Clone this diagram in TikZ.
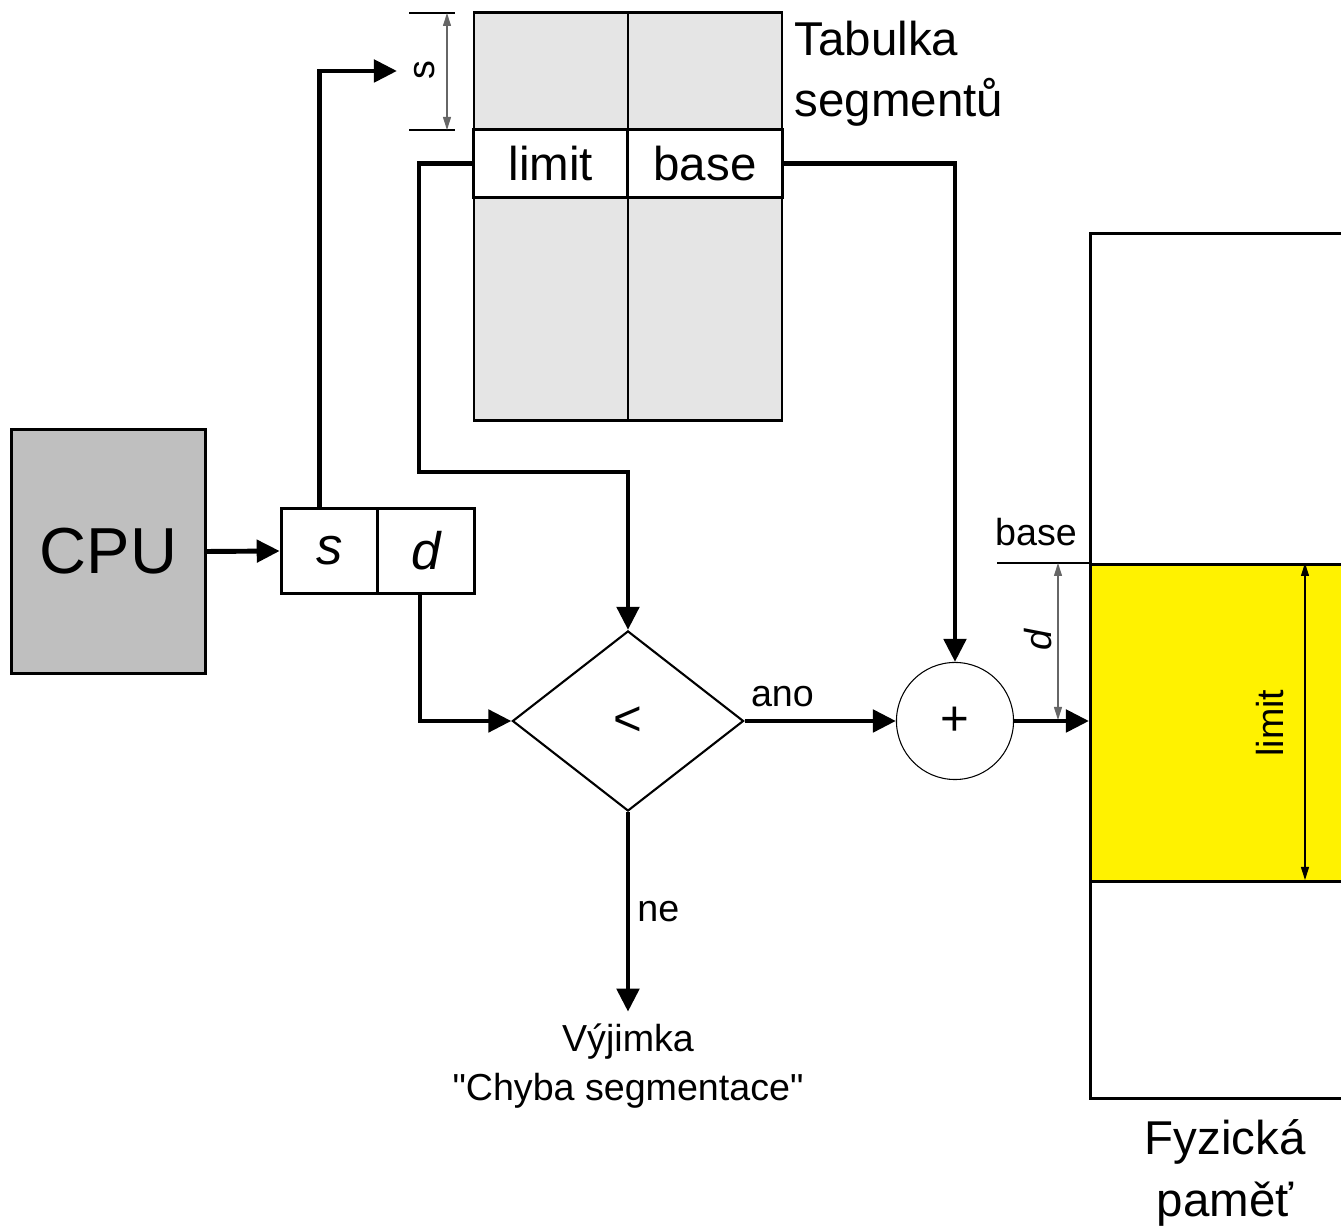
\documentclass[tikz,border=0pt]{standalone}
\usepackage{fontspec}
\setmainfont{Liberation Sans}
\usetikzlibrary{arrows.meta,positioning,calc,shapes.geometric}

\begin{document}
\begin{tikzpicture}[x=0.01cm,y=-0.01cm,
  box/.style={draw, line width=0.85pt, inner sep=0pt},
  conn/.style={line width=1.4pt, -{Triangle[length=0.23cm,width=0.22cm]}},
  dim/.style={line width=0.3pt, {Triangle[length=0.13cm,width=0.08cm]}-{Triangle[length=0.13cm,width=0.08cm]}},
  big/.style={font=\fontsize{18.5}{22}\selectfont},
  mid/.style={font=\fontsize{13.5}{17.4}\selectfont},
  small/.style={font=\fontsize{10.7}{13.7}\selectfont}]
  \clip (0,0) rectangle (1341,1231);
  % CPU a logicka adresa
  \node[box, fill=black!25, minimum width=1.93cm, minimum height=2.43cm, big] (cpu) at (108.5,551.5) {CPU};
  \node[box, minimum width=0.965cm, minimum height=0.84cm, font=\fontsize{15}{18}\selectfont] (s) at (329.5,551) {\itshape s};
  \node[box, minimum width=0.965cm, minimum height=0.84cm, font=\fontsize{15}{18}\selectfont] (d) at (426,551) {\itshape d};
  % tabulka segmentu
  \draw[box, fill=black!10] (474,13) rectangle (782,421);
  \draw[box] (628,13) -- (628,421);
  \node[box, fill=white, minimum width=1.54cm, minimum height=0.67cm, mid] (limit) at (551,163.5) {limit};
  \node[box, fill=white, minimum width=1.54cm, minimum height=0.67cm, mid] (base) at (705,163.5) {base};
  \node[mid, anchor=west, align=left, inner sep=0pt] (tab) at (794,74) {Tabulka\\segmentů};
  \draw[line width=0.3pt] (409,13) -- (455,13) (409,130) -- (455,130);
  \draw[dim, black!60] (447,13) -- (447,130);
  \node[small, rotate=90] (sdim) at (425,70) {s};
  % fyzicka pamet
  \node[box, minimum width=2.8cm, minimum height=8.65cm, anchor=north west] (mem) at (1089,232) {};
  \node[box, fill=yellow, minimum width=2.8cm, minimum height=3.17cm, anchor=north west] (seg) at (1089,563) {};
  \node[small, anchor=south] (membase) at (1036,558) {base};
  \draw[line width=0.6pt] (997,563) -- (seg.north west);
  \draw[dim, black!60] (1058,563) -- (1058,720);
  \node[small, rotate=90] (ddim) at (1038,640) {\itshape d};
  \draw[dim] (1305,563) -- (1305,880);
  \node[small, rotate=90] (lim) at (1270,723) {limit};
  \node[mid, align=center] (fyz) at (1225,1173) {Fyzická\\paměť};
  % porovnani a scitani
  \node[draw, diamond, line width=0.6pt, minimum width=2.31cm, minimum height=1.8cm, inner sep=0pt, font=\fontsize{14}{16}\selectfont] (cmp) at (628,721) {<};
  \node[draw, circle, line width=0.3pt, minimum size=1.17cm, inner sep=0pt, font=\fontsize{14}{16}\selectfont] (plus) at (955,721) {+};
  \node[small, align=center] (exc) at (628,1066) {Výjimka\\\textquotedbl Chyba segmentace\textquotedbl};
  % spoje
  \coordinate (sin) at (397,71);
  \draw[conn] (cpu.east) -- (s.west);
  \draw[conn] ([xshift=-0.1cm]s.north) |- (sin);
  \draw[conn] (limit.west) -| (419,472) -| (cmp.north);
  \draw[conn] (base.east) -| (plus.north);
  \draw[conn] ([xshift=-0.06cm]d.south) |- (cmp.west);
  \draw[conn] (cmp.east) -- node[small, above, pos=0.25] (ano) {ano} (plus.west);
  \draw[conn] (plus.east) -- (plus.east -| seg.west);
  \draw[conn] (cmp.south) -- node[small, right, inner sep=2pt] (ne) {ne} (exc.north);
\end{tikzpicture}
\end{document}
